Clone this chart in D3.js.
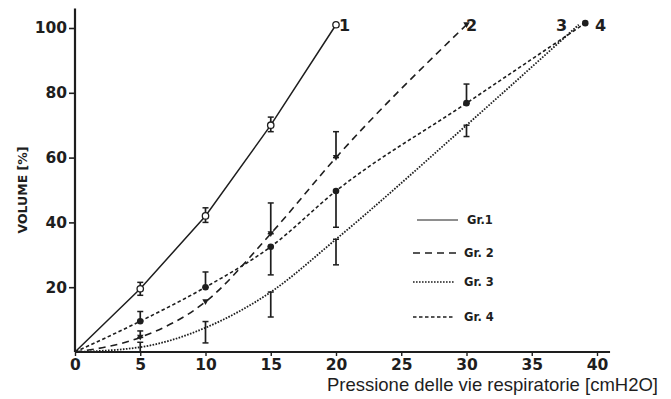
<!DOCTYPE html>
<html>
<head>
<meta charset="utf-8">
<script src="https://cdn.jsdelivr.net/npm/d3@7"></script>
<style>
  body { margin: 0; background: #fff; }
  text { font-family: "Liberation Sans", Arial, sans-serif; fill: #1e1e1e; }
  .num { font-family: "DejaVu Sans", sans-serif; font-weight: bold; }
</style>
</head>
<body>
<svg id="chart" width="671" height="399"></svg>
<script>
// Pressure (cmH2O) and volume (%) per group
var xTicks = [0, 5, 10, 15, 20, 25, 30, 35, 40]
var yTicks = [20, 40, 60, 80, 100]

var g1x = [0, 5, 10, 15, 20]
var g1y = [0, 19.5, 42, 70, 101]
var g1lo = [null, 17.5, 40, 68, null]
var g1hi = [null, 21.5, 44.5, 72.5, null]

var g2x = [0, 5, 10, 15, 20, 30]
var g2y = [0, 4.5, 15.5, 36.5, 60, 101]
var g2lo = [null, null, null, null, null, null]
var g2hi = [null, 6.5, null, 46, 68, null]

var g3x = [0, 5, 10, 15, 20, 30, 38.6]
var g3y = [0, 1.5, 7.5, 18.5, 34.8, 70, 101]
var g3lo = [null, 0, 2.8, 10.8, 26.9, 66.5, null]
var g3hi = [null, 3, 9.4, null, null, null, null]

var g4x = [0, 5, 10, 15, 20, 30, 39.1]
var g4y = [0, 9.5, 20, 32.5, 49.7, 76.8, 101.5]
var g4lo = [null, null, null, 23.8, 38.5, null, null]
var g4hi = [null, 12.5, 24.7, null, null, 82.7, null]

var legendLabels = ["Gr.1", "Gr. 2", "Gr. 3", "Gr. 4"]
var endLabels = ["1", "2", "3", "4"]

function pack(xs, ys, lo, hi) {
	return xs.map(function(x, i) { return {x: x, y: ys[i], lo: lo[i], hi: hi[i]} })
}

var series = [
	{id: 1, values: pack(g1x, g1y, g1lo, g1hi), dash: null, width: 1.5, marker: "open", curve: d3.curveLinear},
	{id: 2, values: pack(g2x, g2y, g2lo, g2hi), dash: "7,5", width: 1.6, marker: "tri", curve: d3.curveMonotoneX},
	{id: 3, values: pack(g3x, g3y, g3lo, g3hi), dash: "1.6,1.4", width: 1.8, marker: "none", curve: d3.curveMonotoneX},
	{id: 4, values: pack(g4x, g4y, g4lo, g4hi), dash: "3.5,2.5", width: 1.6, marker: "dot", curve: d3.curveMonotoneX}
]

var svg = d3.select("#chart")
var ink = "#1e1e1e"

var x = d3.scaleLinear().domain([0, 40]).range([75, 597])
var y = d3.scaleLinear().domain([0, 100]).range([352, 28])

// Axes
var yAxis = svg.append("g")
	.attr("transform", "translate(" + x(0) + ",0)")
	.call(d3.axisLeft(y).tickValues(yTicks).tickSize(6).tickPadding(2))
yAxis.select(".domain").remove()
yAxis.append("line")
	.attr("y1", y(0)).attr("y2", y(106))
	.attr("stroke", ink).attr("stroke-width", 2.2)
yAxis.selectAll(".tick line").attr("stroke", ink).attr("stroke-width", 1.6)
yAxis.selectAll(".tick text")
	.attr("class", "num")
	.attr("fill", ink)
	.style("font-size", "15.5px")

var xAxis = svg.append("g")
	.attr("transform", "translate(0," + y(0) + ")")
	.call(d3.axisBottom(x).tickValues(xTicks).tickSize(4).tickPadding(3))
xAxis.select(".domain").remove()
xAxis.append("line")
	.attr("x1", x(0)).attr("x2", x(41))
	.attr("stroke", ink).attr("stroke-width", 2.2)
xAxis.selectAll(".tick line").attr("stroke", ink).attr("stroke-width", 1.4)
xAxis.selectAll(".tick text")
	.attr("class", "num")
	.attr("fill", ink)
	.style("font-size", "15.5px")

// Axis titles
svg.append("text")
	.attr("class", "num")
	.attr("transform", "translate(27,190) rotate(-90)")
	.attr("text-anchor", "middle")
	.style("font-size", "12.5px")
	.text("VOLUME [%]")

svg.append("text")
	.attr("x", 658).attr("y", 391)
	.attr("text-anchor", "end")
	.style("font-size", "18.5px")
	.text("Pressione delle vie respiratorie [cmH2O]")

// Lines
series.forEach(function(s) {
	var line = d3.line()
		.curve(s.curve)
		.x(function(d) { return x(d.x) })
		.y(function(d) { return y(d.y) })

	svg.append("path")
		.datum(s.values)
		.attr("d", line)
		.attr("fill", "none")
		.attr("stroke", ink)
		.attr("stroke-width", s.width)
		.attr("stroke-dasharray", s.dash)

	// Error bars
	var bars = s.values.filter(function(d) { return d.lo !== null || d.hi !== null })
	bars.forEach(function(d) {
		var top = d.hi !== null ? d.hi : d.y
		var bot = d.lo !== null ? d.lo : d.y
		svg.append("line")
			.attr("x1", x(d.x)).attr("x2", x(d.x))
			.attr("y1", y(top)).attr("y2", y(bot))
			.attr("stroke", ink).attr("stroke-width", 1.7)
		;[top, bot].forEach(function(v) {
			svg.append("line")
				.attr("x1", x(d.x) - 3).attr("x2", x(d.x) + 3)
				.attr("y1", y(v)).attr("y2", y(v))
				.attr("stroke", ink).attr("stroke-width", 1.5)
		})
	})

	// Markers
	var pts = s.values.slice(1)
	if (s.marker === "open") {
		svg.selectAll(null).data(pts).enter().append("circle")
			.attr("cx", function(d) { return x(d.x) })
			.attr("cy", function(d) { return y(d.y) })
			.attr("r", 3.2)
			.attr("fill", "#fff").attr("stroke", ink).attr("stroke-width", 1.3)
	} else if (s.marker === "dot") {
		svg.selectAll(null).data(pts).enter().append("circle")
			.attr("cx", function(d) { return x(d.x) })
			.attr("cy", function(d) { return y(d.y) })
			.attr("r", 3.3)
			.attr("fill", ink)
	} else if (s.marker === "tri") {
		svg.selectAll(null).data(pts).enter().append("path")
			.attr("transform", function(d) { return "translate(" + x(d.x) + "," + y(d.y) + ")" })
			.attr("d", "M-3.2,-2.6L3.2,-2.6L0,3.2Z")
			.attr("fill", ink)
	}
})

// End labels
var endPos = [[339, 31], [466, 31], [556, 31], [595, 31]]
svg.selectAll(".endLabel").data(endLabels).enter().append("text")
	.attr("class", "endLabel num")
	.attr("x", function(d, i) { return endPos[i][0] })
	.attr("y", function(d, i) { return endPos[i][1] })
	.style("font-size", "16px")
	.text(function(d) { return d })

// Legend
var legendRows = [
	{x1: 417, x2: 458, y: 220},
	{x1: 413, x2: 458, y: 253},
	{x1: 413, x2: 455, y: 282},
	{x1: 413, x2: 453, y: 317}
]
legendRows.forEach(function(r, i) {
	svg.append("line")
		.attr("x1", r.x1).attr("x2", r.x2)
		.attr("y1", r.y).attr("y2", r.y)
		.attr("stroke", ink)
		.attr("stroke-width", i === 0 ? 1 : 1.7)
		.attr("stroke-dasharray", i === 0 ? null : series[i].dash)
	svg.append("text")
		.attr("class", "num")
		.attr("x", i === 0 ? 467 : 464).attr("y", r.y + 4)
		.style("font-size", "11.5px")
		.text(legendLabels[i])
})
</script>
</body>
</html>
